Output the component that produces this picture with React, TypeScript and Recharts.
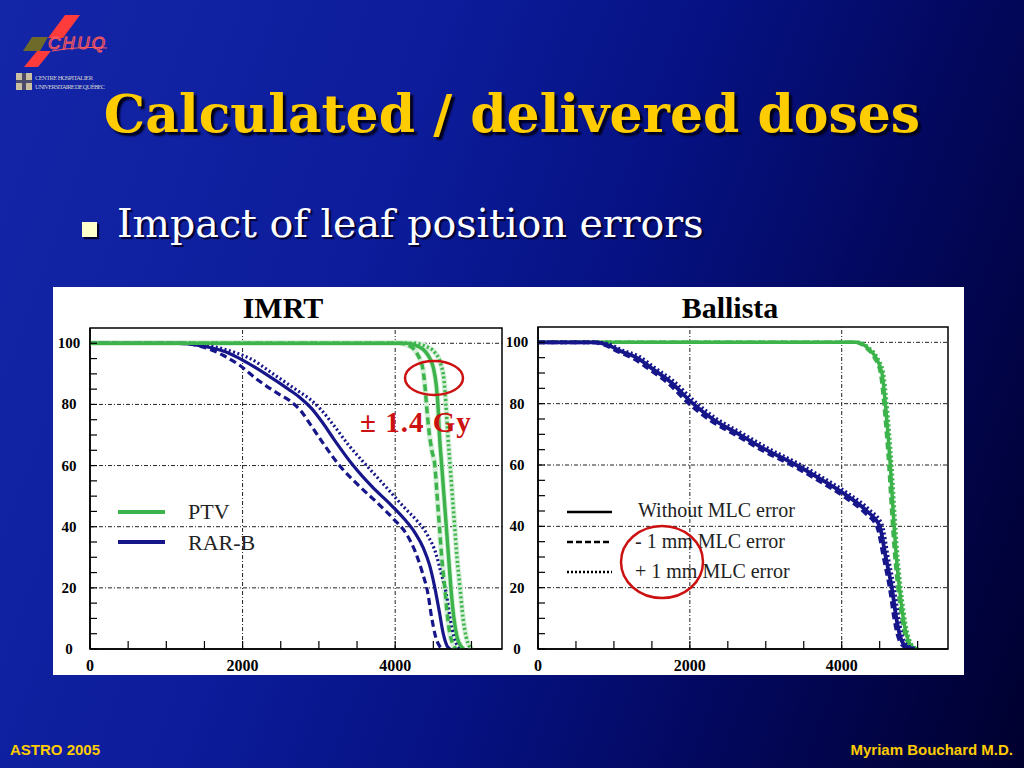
import React from 'react';
import { LineChart, Line, XAxis, YAxis, ReferenceLine, ReferenceArea } from 'recharts';

const serif = '"Liberation Serif", "Times New Roman", serif';
const wideSerif = '"DejaVu Serif", Georgia, serif';
const sans = '"Liberation Sans", Arial, sans-serif';

// axis ticks / labels
const xTicks = [0, 500, 1000, 1500, 2000, 2500, 3000, 3500, 4000, 4500, 5000];
const xLabels = [0, 2000, 4000];
const yTicks = [0, 5, 10, 15, 20, 25, 30, 35, 40, 45, 50, 55, 60, 65, 70, 75, 80, 85, 90, 95, 100];
const yLabels = [0, 20, 40, 60, 80, 100];
const gridX = [2000, 4000];
const gridY = [20, 40, 60, 80, 100];

// IMRT – PTV
const imrtPtvSolidD = [0, 4150, 4300, 4420, 4500, 4540, 4560, 4580, 4610, 4640, 4670, 4700, 4730, 4770, 4810, 4860, 4900];
const imrtPtvSolidV = [100, 100, 99, 96.5, 92, 86, 80, 70, 60, 50, 40, 30, 20, 10, 4, 1, 0];
const imrtPtvMinusD = [0, 4050, 4200, 4300, 4360, 4390, 4410, 4440, 4480, 4520, 4550, 4580, 4610, 4650, 4680, 4710, 4750, 4800];
const imrtPtvMinusV = [100, 100, 99, 96, 92, 86, 80, 72, 65, 60, 50, 40, 30, 20, 12, 6, 2, 0];
const imrtPtvPlusD = [0, 4250, 4400, 4520, 4600, 4640, 4665, 4690, 4720, 4750, 4780, 4810, 4850, 4890, 4930, 4970, 5010];
const imrtPtvPlusV = [100, 100, 99, 97, 93, 88, 80, 70, 60, 50, 40, 30, 20, 10, 4, 1, 0];

// IMRT – RAR-B
const imrtRarSolidD = [0, 1200, 1500, 1800, 2000, 2300, 2600, 2750, 2900, 3050, 3200, 3450, 3700, 3950, 4120, 4260, 4370, 4450, 4520, 4580, 4630, 4680, 4720];
const imrtRarSolidV = [100, 100, 99, 97, 94.5, 90, 85, 82.3, 78.8, 74, 68.5, 60, 53, 47, 42.5, 38, 33, 27.5, 20, 12, 5, 1, 0];
const imrtRarMinusD = [0, 1150, 1450, 1750, 1950, 2200, 2500, 2620, 2760, 2900, 3050, 3270, 3500, 3800, 3980, 4150, 4260, 4350, 4430, 4480, 4530, 4580, 4620];
const imrtRarMinusV = [100, 100, 99, 96, 93, 88, 83, 81.2, 78, 73, 67.5, 60, 54, 47, 42.5, 37.5, 32, 25.5, 18, 10, 4, 1, 0];
const imrtRarPlusD = [0, 1250, 1600, 1900, 2100, 2400, 2750, 2880, 3020, 3200, 3380, 3625, 3880, 4130, 4290, 4430, 4530, 4600, 4670, 4720, 4770, 4820, 4870];
const imrtRarPlusV = [100, 100, 99, 97, 95, 90, 84, 81.8, 78.5, 73, 67, 60, 53, 46, 41.8, 37, 31.5, 25, 18, 10, 4, 1, 0];

// Ballista – PTV
const balPtvSolidD = [0, 4200, 4350, 4450, 4530, 4575, 4610, 4640, 4665, 4690, 4720, 4760, 4800, 4840, 4890, 4940, 4990];
const balPtvSolidV = [100, 100, 98, 95, 90, 80, 70, 60, 50, 40, 30, 20, 12, 6, 2, 0.5, 0];
const balPtvMinusD = [0, 4180, 4330, 4430, 4510, 4555, 4590, 4620, 4645, 4670, 4700, 4740, 4780, 4820, 4870, 4920, 4970];
const balPtvMinusV = [100, 100, 98, 95, 90, 80, 70, 60, 50, 40, 30, 20, 12, 6, 2, 0.5, 0];
const balPtvPlusD = [0, 4220, 4370, 4470, 4550, 4595, 4630, 4660, 4685, 4710, 4740, 4780, 4820, 4860, 4910, 4960, 5010];
const balPtvPlusV = [100, 100, 98, 95, 90, 80, 70, 60, 50, 40, 30, 20, 12, 6, 2, 0.5, 0];

// Ballista – RAR-B
const balRarSolidD = [0, 750, 900, 1100, 1300, 1500, 1750, 2020, 2300, 2650, 3000, 3400, 3750, 4070, 4330, 4500, 4580, 4660, 4720, 4760, 4820, 4900, 4960];
const balRarSolidV = [100, 100, 99.3, 97, 95, 91.5, 87, 80.5, 75, 70, 65, 60, 55, 50, 45, 40, 30, 20, 10, 5, 1.5, 0.3, 0];
const balRarMinusD = [0, 720, 870, 1070, 1270, 1470, 1720, 1990, 2270, 2620, 2970, 3370, 3720, 4040, 4300, 4470, 4555, 4635, 4695, 4735, 4795, 4870, 4930];
const balRarMinusV = [100, 100, 99.2, 96.8, 94.6, 91.2, 86.6, 80, 74.6, 69.6, 64.6, 59.6, 54.6, 49.6, 44.6, 39.6, 29.6, 19.6, 9.6, 4.8, 1.4, 0.3, 0];
const balRarPlusD = [0, 780, 930, 1130, 1330, 1530, 1780, 2050, 2330, 2680, 3030, 3430, 3780, 4100, 4360, 4530, 4605, 4685, 4745, 4785, 4845, 4930, 4990];
const balRarPlusV = [100, 100, 99.4, 97.2, 95.4, 91.8, 87.4, 81, 75.4, 70.4, 65.4, 60.4, 55.4, 50.4, 45.4, 40.4, 30.4, 20.4, 10.4, 5.2, 1.6, 0.3, 0];

const GREEN = '#3cb44b';
const BLUE = '#16168a';
const DASH = '7 4';
const DOT = '2 2.5';

const zip = (d: number[], v: number[]) => d.map((x, i) => ({ d: x, v: v[i] }));

type Series = { data: { d: number; v: number }[]; color: string; dash?: string; width: number; halo?: boolean };

const imrtSeries: Series[] = [
  { data: zip(imrtRarMinusD, imrtRarMinusV), color: BLUE, dash: DASH, width: 3.2 },
  { data: zip(imrtRarPlusD, imrtRarPlusV), color: BLUE, dash: DOT, width: 3.2 },
  { data: zip(imrtRarSolidD, imrtRarSolidV), color: BLUE, width: 3.2 },
  { data: zip(imrtPtvMinusD, imrtPtvMinusV), color: GREEN, dash: DASH, width: 3.5, halo: true },
  { data: zip(imrtPtvPlusD, imrtPtvPlusV), color: GREEN, dash: DOT, width: 3.5, halo: true },
  { data: zip(imrtPtvSolidD, imrtPtvSolidV), color: GREEN, width: 3.5, halo: true },
];

const balSeries: Series[] = [
  { data: zip(balPtvMinusD, balPtvMinusV), color: GREEN, dash: DASH, width: 3.5 },
  { data: zip(balPtvPlusD, balPtvPlusV), color: GREEN, dash: DOT, width: 3.5 },
  { data: zip(balPtvSolidD, balPtvSolidV), color: GREEN, width: 3.5 },
  { data: zip(balRarMinusD, balRarMinusV), color: BLUE, dash: DASH, width: 3.8 },
  { data: zip(balRarPlusD, balRarPlusV), color: BLUE, dash: DOT, width: 3.8 },
  { data: zip(balRarSolidD, balRarSolidV), color: BLUE, width: 3.8 },
];

const YTick = (props: any) => {
  const { x, y, payload } = props;
  if (!yLabels.includes(payload.value)) return <g />;
  return (
    <text x={x} y={y + 5} textAnchor="middle" fontFamily={serif} fontWeight="bold" fontSize={15} fill="#000">
      {payload.value}
    </text>
  );
};

const XTick = (props: any) => {
  const { x, y, payload } = props;
  if (!xLabels.includes(payload.value)) return <g />;
  return (
    <text x={x} y={y + 10} textAnchor="middle" fontFamily={serif} fontWeight="bold" fontSize={16} fill="#000">
      {payload.value}
    </text>
  );
};

function DvhChart(p: { left: number; top: number; width: number; height: number; mTop: number; mRight: number; yWidth: number; series: Series[] }) {
  return (
    <div style={{ position: 'absolute', left: p.left, top: p.top }}>
      <LineChart width={p.width} height={p.height} margin={{ top: p.mTop, right: p.mRight, bottom: 0, left: 0 }}>
        <XAxis
          type="number"
          dataKey="d"
          domain={[0, 5400]}
          ticks={xTicks}
          interval={0}
          height={26}
          tickSize={-8}
          tickMargin={20}
          axisLine={{ stroke: '#000', strokeWidth: 1.5 }}
          tickLine={{ stroke: '#000', strokeWidth: 1.2 }}
          tick={<XTick />}
          allowDataOverflow
        />
        <YAxis
          type="number"
          domain={[0, 105]}
          ticks={yTicks}
          interval={0}
          width={p.yWidth}
          tickSize={-7}
          tickMargin={28}
          axisLine={{ stroke: '#000', strokeWidth: 1.5 }}
          tickLine={{ stroke: '#000', strokeWidth: 1.2 }}
          tick={<YTick />}
          allowDataOverflow
        />
        {gridY.map((g) => (
          <ReferenceLine key={'gy' + g} y={g} stroke="#222" strokeWidth={1} strokeDasharray="4 2 1 2" />
        ))}
        {gridX.map((g) => (
          <ReferenceLine key={'gx' + g} x={g} stroke="#222" strokeWidth={1} strokeDasharray="4 2 1 2" />
        ))}
        <ReferenceArea x1={0} x2={5400} y1={0} y2={105} fill="none" fillOpacity={0} stroke="#000" strokeWidth={1.5} />
        {p.series
          .filter((s) => s.halo)
          .map((s, i) => (
            <Line
              key={'h' + i}
              data={s.data}
              dataKey="v"
              type="monotone"
              stroke="#d6efd8"
              strokeWidth={5.5}
              dot={false}
              activeDot={false}
              isAnimationActive={false}
            />
          ))}
        {p.series.map((s, i) => (
          <Line
            key={i}
            data={s.data}
            dataKey="v"
            type="monotone"
            stroke={s.color}
            strokeWidth={s.width}
            strokeDasharray={s.dash}
            dot={false}
            activeDot={false}
            isAnimationActive={false}
          />
        ))}
      </LineChart>
    </div>
  );
}

function Logo() {
  return (
    <svg width={130} height={100} style={{ position: 'absolute', left: 0, top: 0 }}>
      <polygon points="65,15 80,15 63,38 48,38" fill="#ff3b3b" />
      <polygon points="32,37 48,37 40,51 23,51" fill="#6e6a2a" />
      <polygon points="37,51 51,51 38,67 24,67" fill="#ff3b3b" />
      <text x={48} y={49} textLength={57} fontFamily={sans} fontStyle="italic" fontSize={17} fill="none" stroke="#ff5a5a" strokeWidth={1}>
        CHUQ
      </text>
      <path d="M52 51 Q80 46 107 48" stroke="#ff5a5a" strokeWidth={1} fill="none" />
      <rect x={16} y={73} width={16} height={17} fill="#c8c0a0" />
      <rect x={22} y={73} width={4} height={17} fill="#4a4a6a" />
      <rect x={16} y={80} width={16} height={3} fill="#4a4a6a" />
      <text x={35} y={80} textLength={58} fontFamily={serif} fontSize={6.5} fill="#d0d0d0">CENTRE HOSPITALIER</text>
      <text x={35} y={89} textLength={70} fontFamily={serif} fontSize={6.5} fill="#d0d0d0">UNIVERSITAIRE DE QUÉBEC</text>
    </svg>
  );
}

export default function App() {
  return (
    <div
      style={{
        position: 'absolute',
        left: 0,
        top: 0,
        width: 1024,
        height: 768,
        overflow: 'hidden',
        background: 'linear-gradient(110deg, #1426a8 0%, #0c1c9a 35%, #061283 55%, #03085e 75%, #00002e 100%)',
      }}
    >
      <Logo />
      <div
        style={{
          position: 'absolute',
          left: 0,
          width: 1024,
          top: 82,
          textAlign: 'center',
          fontFamily: wideSerif,
          fontWeight: 'bold',
          fontSize: 52,
          color: '#ffcc00',
          textShadow: '3px 3px 2px #000018',
          whiteSpace: 'nowrap',
          lineHeight: '64px',
        }}
      >
        Calculated / delivered doses
      </div>
      <div style={{ position: 'absolute', left: 82, top: 222, width: 15, height: 15, background: '#ffffcc', boxShadow: '2px 2px 1px #000030' }} />
      <div
        style={{
          position: 'absolute',
          left: 117,
          top: 200,
          fontFamily: wideSerif,
          fontSize: 39.5,
          color: '#ffffff',
          textShadow: '2px 2px 1px #000030',
          whiteSpace: 'nowrap',
          lineHeight: '46px',
        }}
      >
        Impact of leaf position errors
      </div>
      <div style={{ position: 'absolute', left: 53, top: 287, width: 911, height: 388, background: '#ffffff' }} />
      <DvhChart left={53} top={287} width={455} height={388} mTop={41} mRight={6} yWidth={37} series={imrtSeries} />
      <DvhChart left={500} top={287} width={464} height={388} mTop={40} mRight={16} yWidth={38} series={balSeries} />
      <svg width={1024} height={768} style={{ position: 'absolute', left: 0, top: 0, pointerEvents: 'none' }}>
        <text x={283} y={318} textAnchor="middle" fontFamily={serif} fontWeight="bold" fontSize={30} fill="#000">IMRT</text>
        <text x={730} y={318} textAnchor="middle" fontFamily={serif} fontWeight="bold" fontSize={30} fill="#000">Ballista</text>

        <line x1={118} y1={512} x2={165} y2={512} stroke={GREEN} strokeWidth={4} />
        <text x={188} y={519} fontFamily={serif} fontSize={22} fill="#222">PTV</text>
        <line x1={118} y1={542} x2={165} y2={542} stroke={BLUE} strokeWidth={4} />
        <text x={188} y={550} fontFamily={serif} fontSize={22} fill="#222">RAR-B</text>

        <line x1={567} y1={512} x2={612} y2={512} stroke="#000" strokeWidth={2.5} />
        <text x={638} y={517} fontFamily={serif} fontSize={20} fill="#222">Without MLC error</text>
        <line x1={567} y1={542} x2={612} y2={542} stroke="#000" strokeWidth={2.5} strokeDasharray="6 3" />
        <text x={635} y={548} fontFamily={serif} fontSize={20} fill="#222">- 1 mm MLC error</text>
        <line x1={567} y1={572} x2={612} y2={572} stroke="#000" strokeWidth={2.5} strokeDasharray="2 2" />
        <text x={635} y={578} fontFamily={serif} fontSize={20} fill="#222">+ 1 mm MLC error</text>

        <ellipse cx={434} cy={378} rx={29} ry={17} fill="none" stroke="#cc1111" strokeWidth={2.5} />
        <text x={360} y={432} fontFamily={serif} fontWeight="bold" fontSize={29} letterSpacing={1} fill="#cc1111">± 1.4 Gy</text>
        <ellipse cx={662} cy={562} rx={41} ry={36} fill="none" stroke="#cc1111" strokeWidth={2.5} />

        <text x={10} y={755} fontFamily={sans} fontWeight="bold" fontSize={15} fill="#ffcc00">ASTRO 2005</text>
        <text x={1013} y={755} textAnchor="end" fontFamily={sans} fontWeight="bold" fontSize={15} fill="#ffcc00">Myriam Bouchard M.D.</text>
      </svg>
    </div>
  );
}
